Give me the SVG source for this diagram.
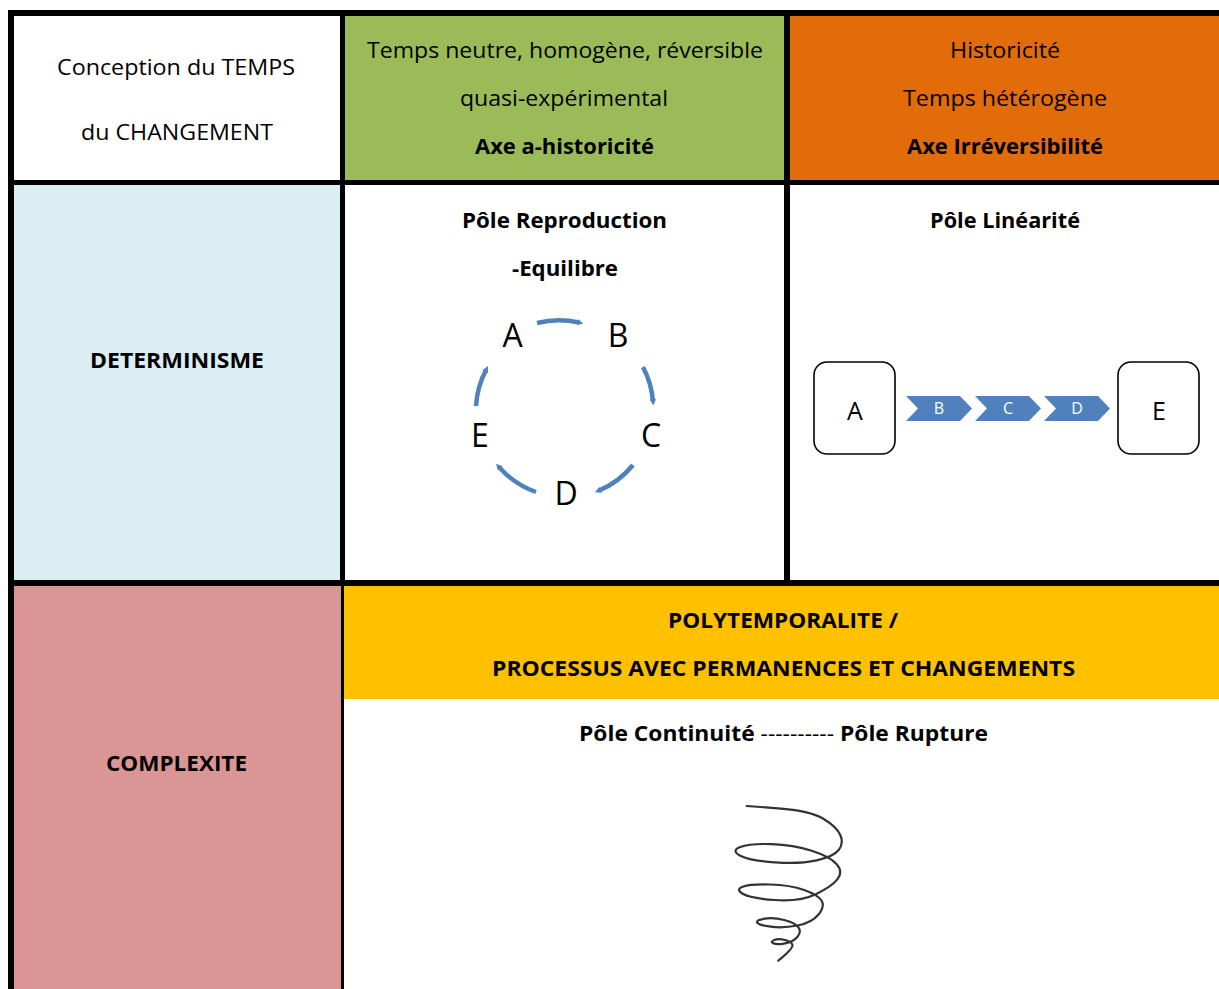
<svg xmlns="http://www.w3.org/2000/svg" width="1219" height="989" viewBox="0 0 1219 989">
<defs>
<style>
.t{font-family:"Open Sans","Liberation Sans",sans-serif;font-size:22px;fill:#000;text-anchor:middle}
.b{font-weight:700}
.big{font-family:"Open Sans","Liberation Sans",sans-serif;font-size:32px;fill:#000;text-anchor:middle}
.box{fill:#fff;stroke:#000;stroke-width:1.6}
.chev{fill:#4F81BD}
.cl{font-family:"Open Sans","Liberation Sans",sans-serif;font-size:16px;fill:#fff;text-anchor:middle}
.arc{fill:none;stroke:#4F81BD;stroke-width:4.5;marker-end:url(#ah)}
.line{fill:#000}
</style>
<marker id="ah" viewBox="0 0 10 10" refX="3" refY="5" markerWidth="1.4" markerHeight="1.4" orient="auto" markerUnits="strokeWidth">
<path d="M0,0 L10,5 L0,10 Z" fill="#4F81BD"/>
</marker>
</defs>
<rect width="1219" height="989" fill="#fff"/>

<g id="cell-header-concept">
<rect x="14" y="16" width="326" height="164" fill="#fff"/>
<text class="t" x="176" y="75" textLength="238" lengthAdjust="spacingAndGlyphs">Conception du TEMPS</text>
<text class="t" x="177" y="140" textLength="192" lengthAdjust="spacingAndGlyphs">du CHANGEMENT</text>
</g>
<g id="cell-header-ahistoricite">
<rect x="345" y="16" width="439" height="164" fill="#9BBB59"/>
<text class="t" x="565" y="58" textLength="396" lengthAdjust="spacingAndGlyphs">Temps neutre, homogène, réversible</text>
<text class="t" x="564" y="106" textLength="208" lengthAdjust="spacingAndGlyphs">quasi-expérimental</text>
<text class="t b" x="564.5" y="154" textLength="179" lengthAdjust="spacingAndGlyphs">Axe a-historicité</text>
</g>
<g id="cell-header-irreversibilite">
<rect x="790" y="16" width="429" height="164" fill="#E36C0A"/>
<text class="t" x="1005" y="58" textLength="110" lengthAdjust="spacingAndGlyphs">Historicité</text>
<text class="t" x="1005" y="106" textLength="204" lengthAdjust="spacingAndGlyphs">Temps hétérogène</text>
<text class="t b" x="1005" y="154" textLength="196" lengthAdjust="spacingAndGlyphs">Axe Irréversibilité</text>
</g>
<g id="cell-determinisme">
<rect x="14" y="185" width="326" height="395" fill="#DBEEF3"/>
<text class="t b" x="177" y="368" textLength="174" lengthAdjust="spacingAndGlyphs">DETERMINISME</text>
</g>
<g id="cell-reproduction">
<text class="t b" x="564.5" y="228" textLength="205" lengthAdjust="spacingAndGlyphs">Pôle Reproduction</text>
<text class="t b" x="565" y="276" textLength="106" lengthAdjust="spacingAndGlyphs">-Equilibre</text>
</g>
<g id="cycle-A"><text class="big" x="512.5" y="347">A</text></g>
<g id="cycle-B"><text class="big" x="618" y="347">B</text></g>
<g id="cycle-C"><text class="big" x="651" y="447">C</text></g>
<g id="cycle-D"><text class="big" x="566" y="505">D</text></g>
<g id="cycle-E"><text class="big" x="480" y="447">E</text></g>

<g id="cell-linearite">
<text class="t b" x="1005" y="228" textLength="150" lengthAdjust="spacingAndGlyphs">Pôle Linéarité</text>
</g>
<g id="lin-A">
<rect class="box" x="814" y="362" width="81" height="92" rx="13"/>
<text class="t" x="855" y="420" style="font-size:25px">A</text>
</g>
<g id="lin-B">
<path class="chev" d="M906,396 L960,396 L972,408.5 L960,421 L906,421 L918,408.5 Z"/>
<text class="cl" x="939" y="414">B</text>
</g>
<g id="lin-C">
<path class="chev" d="M975,396 L1029,396 L1041,408.5 L1029,421 L975,421 L987,408.5 Z"/>
<text class="cl" x="1008" y="414">C</text>
</g>
<g id="lin-D">
<path class="chev" d="M1044,396 L1098,396 L1110,408.5 L1098,421 L1044,421 L1056,408.5 Z"/>
<text class="cl" x="1077" y="414">D</text>
</g>
<g id="lin-E">
<rect class="box" x="1118" y="362" width="81" height="92" rx="13"/>
<text class="t" x="1159" y="420" style="font-size:25px">E</text>
</g>

<g id="cell-complexite">
<rect x="14" y="586" width="328" height="403" fill="#D99694"/>
<text class="t b" x="176.5" y="771" textLength="141" lengthAdjust="spacingAndGlyphs">COMPLEXITE</text>
</g>
<g id="cell-polytemporalite">
<rect x="344" y="586" width="875" height="113" fill="#FFC000"/>
<text class="t b" x="783" y="628" textLength="230" lengthAdjust="spacingAndGlyphs">POLYTEMPORALITE /</text>
<text class="t b" x="783.5" y="676" textLength="583" lengthAdjust="spacingAndGlyphs">PROCESSUS AVEC PERMANENCES ET CHANGEMENTS</text>
<text class="t" x="783.5" y="741" textLength="409" lengthAdjust="spacingAndGlyphs"><tspan class="b">Pôle Continuité</tspan> ---------- <tspan class="b">Pôle Rupture</tspan></text>
</g>
<g id="spiral">
<path fill="none" stroke="#333" stroke-width="2.2" stroke-linecap="round" d="M746.7,806 L778.3,808.3 Q810,810.7 823.3,818.7 Q836.7,826.7 840.3,835 Q844,843.3 838.7,850 Q833.3,856.7 816.7,860.3 Q800,864 775,862.3 Q750,860.7 740.3,855.7 Q730.7,850.7 740.3,847 Q750,843.3 771.7,844.2 Q793.3,845 811.7,850.8 Q830,856.7 836.7,864.2 Q843.3,871.7 837.5,879.2 Q831.7,886.7 815.8,894.2 Q800,901.7 775,900 Q750,898.3 742.7,893.8 Q735.3,889.3 742.7,886.7 Q750,884 770,884.5 Q790,885 804.2,890 Q818.3,895 821.7,900.8 Q825,906.7 818.3,914.7 Q811.7,922.7 797.5,925.5 Q783.3,928.3 770.8,926.7 Q758.3,925 757.2,922.5 Q756,920 764.7,918.7 Q773.3,917.3 784.2,920 Q795,922.7 798.3,927.2 Q801.7,931.7 797.5,936.7 Q793.3,941.7 785,943.3 Q776.7,945 773.3,943.3 Q770,941.7 774.2,940 Q778.3,938.3 785,940 Q791.7,941.7 792.5,945 Q793.3,948.3 778.3,960.7"/>
</g>

<g id="connectors">
<path class="arc" d="M537,323 A90 90 0 0 1 579,322.5"/>
<path class="arc" d="M643,367 A90 90 0 0 1 653,401"/>
<path class="arc" d="M633,465 A88 88 0 0 1 599,490.5"/>
<path class="arc" d="M536,492 A88 88 0 0 1 499,467"/>
<path class="arc" d="M476,406 A90 90 0 0 1 486,370"/>
</g>

<g id="grid">
<rect class="line" x="8" y="10" width="1211" height="6"/>
<rect class="line" x="8" y="10" width="6" height="979"/>
<rect class="line" x="340" y="10" width="5" height="576"/>
<rect class="line" x="341" y="586" width="3" height="403"/>
<rect class="line" x="784" y="10" width="6" height="576"/>
<rect class="line" x="8" y="180" width="1211" height="5"/>
<rect class="line" x="8" y="580" width="1211" height="6"/>
</g>
</svg>
